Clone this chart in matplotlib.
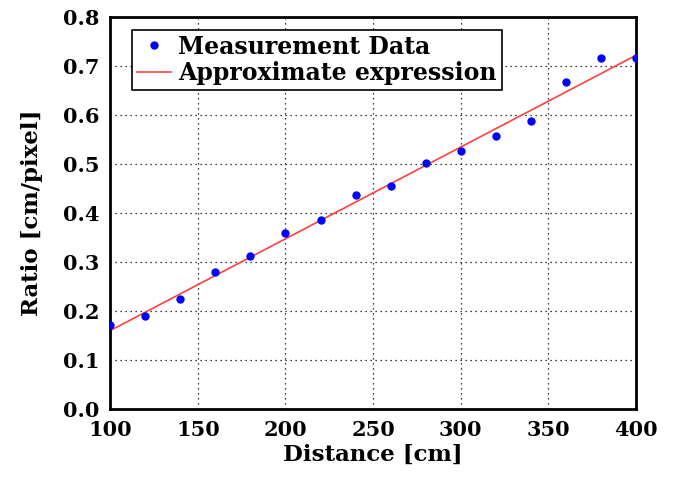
import numpy as np
import matplotlib
matplotlib.use("Agg")
import matplotlib.pyplot as plt

# measured data
distance = [100, 120, 140, 160, 180, 200, 220, 240, 260, 280, 300, 320, 340, 360, 380, 400]
ratio = [0.171, 0.190, 0.224, 0.280, 0.312, 0.359, 0.386, 0.437, 0.455, 0.502,
         0.527, 0.557, 0.588, 0.667, 0.716, 0.716]

# approximate expression: ratio = slope * distance + intercept
fit_x = [100, 400]
slope = 0.001873
intercept = -0.0273

plt.rcParams['font.family'] = ['DejaVu Serif']
plt.rcParams['font.weight'] = 'bold'

fig = plt.figure(figsize=(6.76, 4.84), dpi=100)
ax = fig.add_axes([0.163, 0.155, 0.778, 0.810])

ax.plot(distance, ratio, 'o', color='#0000ff', markersize=5, label='Measurement Data', zorder=3)
fx = np.array(fit_x)
ax.plot(fx, slope * fx + intercept, '-', color='#ff4040', linewidth=1.2,
        label='Approximate expression', zorder=2)

ax.set_xlim(100, 400)
ax.set_ylim(0, 0.8)
ax.set_xticks(range(100, 401, 50))
ax.set_yticks(np.arange(0, 0.81, 0.1))
ax.set_yticklabels([f"{v:.1f}" for v in np.arange(0, 0.81, 0.1)])
ax.tick_params(length=0, labelsize=15, pad=8)

ax.grid(True, color='black', linestyle=(0, (1, 3)), linewidth=0.9)
for s in ax.spines.values():
    s.set_linewidth(2)

ax.set_xlabel('Distance [cm]', fontsize=16.5, fontweight='bold', labelpad=3)
ax.set_ylabel('Ratio [cm/pixel]', fontsize=16.5, fontweight='bold', labelpad=14)

leg = ax.legend(loc='upper left', bbox_to_anchor=(0.042, 0.967), borderaxespad=0,
                prop={'size': 17, 'weight': 'bold'}, fancybox=False,
                framealpha=1, edgecolor='black', borderpad=0.2, handlelength=1.45,
                handletextpad=0.3, labelspacing=0.1)
leg.get_frame().set_linewidth(1.2)

fig.savefig('out.png', dpi=100)
